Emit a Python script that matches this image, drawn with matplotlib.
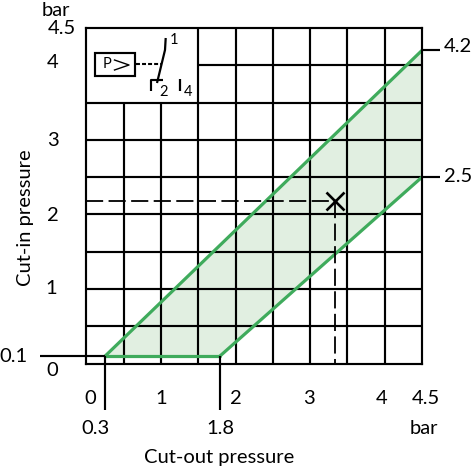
import matplotlib
matplotlib.use("Agg")
import matplotlib.pyplot as plt
from matplotlib.patches import Rectangle

FONT = "Lato"

# chart values (bar), as drawn in the picture
cut_out_low = [0.25, 4.5]
cut_in_upper = [0.1, 4.2]
cut_out_right = [1.79, 4.5]
cut_in_lower = [0.1, 2.5]
example_point = (3.335, 2.175)
grid_steps = [i * 0.5 for i in range(10)]
y_tick_values = [0, 1, 2, 3, 4, 4.5]
x_tick_values = [0, 1, 2, 3, 4, 4.5]

W, H = 477, 471
L, R, T, B = 86.5, 422.0, 28.0, 363.5
SC = (R - L) / 4.5
INK = "#000000"
GREEN = "#3FAB5C"
FILL = "#E1EFE1"
LW = 1.55

fig = plt.figure(figsize=(W / 100, H / 100), dpi=100, facecolor="white")
ax = fig.add_axes([L / W, 1 - B / H, (R - L) / W, (B - T) / H])
ax.set_xlim(0, 4.5)
ax.set_ylim(0, 4.5)
ax.set_xticks([])
ax.set_yticks([])
for s in ax.spines.values():
    s.set_linewidth(LW)
    s.set_zorder(5)


def dx(px):
    return (px - L) / SC


def dy(py):
    return (B - py) / SC


def label(px, py, s, size=14.5, **kw):
    ax.text(dx(px), dy(py), s, ha=kw.pop("ha", "center"), va="center",
            fontsize=size, family=FONT, color=INK, clip_on=False, **kw)


def stroke(xs, ys, lw=LW, **kw):
    ax.plot(xs, ys, color=INK, lw=lw, clip_on=False, solid_capstyle="butt", **kw)


# operating region
ax.fill([cut_out_low[0], cut_out_low[1], cut_out_right[1], cut_out_right[0]],
        [cut_in_upper[0], cut_in_upper[1], cut_in_lower[1], cut_in_lower[0]],
        color=FILL, lw=0, zorder=1)

# grid, leaving out the symbol corner
for g in grid_steps[1:-1]:
    ax.plot([g, g], [0, 4.5 if g >= 1.5 else 3.5], color=INK, lw=LW, zorder=3,
            solid_capstyle="butt")
    ax.plot([0 if g <= 3.5 else 1.5, 4.5], [g, g], color=INK, lw=LW, zorder=3,
            solid_capstyle="butt")

# limit lines
for xs, ys in [(cut_out_low, cut_in_upper), (cut_out_right, cut_in_lower),
               ([cut_out_low[0], cut_out_right[0]], [cut_in_upper[0], cut_in_lower[0]])]:
    ax.plot(xs, ys, color=GREEN, lw=2.3, zorder=4, solid_capstyle="round")

# reference leaders outside the axes
stroke([dx(40), cut_out_low[0]], [0.1, 0.1], zorder=4)
stroke([cut_out_low[0]] * 2, [0.1, dy(409.5)], zorder=4)
stroke([cut_out_right[0]] * 2, [0.1, dy(409.5)], zorder=4)
stroke([4.5, dx(440)], [4.2, 4.2], zorder=4)
stroke([4.5, dx(440)], [2.5, 2.5], zorder=4)

# worked example
px, py = example_point
ax.plot([0, px], [py, py], color=INK, lw=1.3, dashes=(9.5, 3), zorder=4)
ax.plot([px, px], [py, 0], color=INK, lw=1.3, dashes=(9.5, 3), zorder=4)
ax.plot([px], [py], marker="x", ms=12.5, mew=1.9, color=INK, zorder=6, ls="none")

# switch symbol
ax.add_patch(Rectangle((dx(95.5), dy(76)), 39.5 / SC, 23 / SC, fill=False, ec=INK, lw=LW, zorder=4))
ax.plot([dx(136), dx(162)], [dy(64.5), dy(64.5)], color=INK, lw=1.5, dashes=(1.9, 1.0), zorder=4)
stroke([dx(165.7), dx(165), dx(157)], [dy(38), dy(50), dy(83)], lw=1.6)
stroke([dx(163), dx(151.5), dx(151.5)], [dy(79.5), dy(79.5), dy(91)])
stroke([dx(180), dx(180)], [dy(79), dy(91)], lw=1.6)
label(107, 64.5, "P", size=10.5)
ax.plot([dx(114.5), dx(129), dx(114.5)], [dy(60), dy(65), dy(70)], color=INK, lw=1.0, zorder=4)
label(174, 39.5, "1", size=10.5)
label(163.5, 91.5, "2", size=10.5)
label(188, 92, "4", size=10.5)

# axis texts
y_tick_px = {0: (52, 371), 1: (51.5, 288), 2: (53, 215), 3: (53, 141), 4: (53, 62), 4.5: (62, 28)}
for v in y_tick_values:
    label(*y_tick_px[v], f"{v}")
x_tick_px = {0: (90, 398), 1: (161, 398), 2: (236, 398), 3: (309, 398), 4: (382, 398), 4.5: (426, 398)}
for v in x_tick_values:
    label(*x_tick_px[v], f"{v}")
label(13, 356, "0.1")
label(96, 429, "0.3")
label(220, 429, "1.8")
label(458, 46, "4.2")
label(458, 177, "2.5")
label(56, 10, "bar")
label(424, 429, "bar")
label(219, 457, "Cut-out pressure")
label(25, 218, "Cut-in pressure", rotation=90)

fig.savefig("out.png", dpi=100)
